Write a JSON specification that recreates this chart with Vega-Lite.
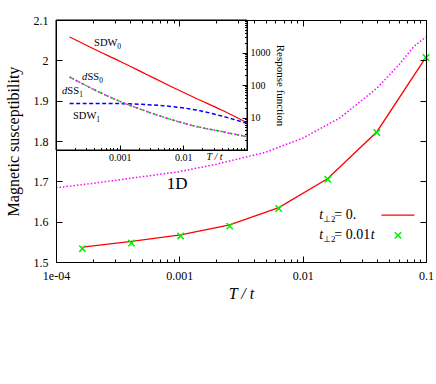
{
 "$schema": "https://vega.github.io/schema/vega-lite/v6.json",
 "width": 370,
 "height": 242,
 "autosize": {"type": "none"},
 "padding": {"left": 56, "top": 20, "right": 10, "bottom": 122},
 "background": "white",
 "config": {
  "font": "Liberation Serif",
  "view": {"stroke": null},
  "axis": {"domainColor": "black", "tickColor": "black", "labelColor": "black", "titleColor": "black", "domainWidth": 1, "tickWidth": 1, "grid": false, "labelFont": "Liberation Serif", "titleFont": "Liberation Serif", "titleFontWeight": "normal"},
  "text": {"font": "Liberation Serif", "color": "black", "fill": "black"}
 },
 "datasets": {
  "red": [{"T":0.00016384,"v":1.537},{"T":0.0004096,"v":1.551},{"T":0.001024,"v":1.567},{"T":0.00256,"v":1.592},{"T":0.0064,"v":1.635},{"T":0.016,"v":1.707},{"T":0.04,"v":1.823},{"T":0.1,"v":2.008}],
  "green": [{"T":0.00016384,"v":1.533},{"T":0.0004096,"v":1.547},{"T":0.001024,"v":1.5645},{"T":0.00256,"v":1.589},{"T":0.0064,"v":1.6325},{"T":0.016,"v":1.705},{"T":0.04,"v":1.821},{"T":0.1,"v":2.007}],
  "magenta": [{"T":0.0001,"v":1.684},{"T":0.0002,"v":1.695},{"T":0.0005,"v":1.7115},{"T":0.001,"v":1.724},{"T":0.002,"v":1.7425},{"T":0.005,"v":1.772},{"T":0.01,"v":1.807},{"T":0.02,"v":1.857},{"T":0.04,"v":1.931},{"T":0.06,"v":1.988},{"T":0.08,"v":2.035},{"T":0.1,"v":2.058}],
  "inset": [
   {"T":0.00016384,"SDW0":3000,"SDW1":27,"dSS0":176,"dSS1":176},
   {"T":0.0004096,"SDW0":1240,"SDW1":27,"dSS0":70,"dSS1":70},
   {"T":0.001024,"SDW0":530,"SDW1":26.7,"dSS0":31,"dSS1":31},
   {"T":0.00256,"SDW0":218,"SDW1":25,"dSS0":15.8,"dSS1":15.8},
   {"T":0.0064,"SDW0":90,"SDW1":21.8,"dSS0":8.7,"dSS1":8.7},
   {"T":0.016,"SDW0":38.5,"SDW1":17,"dSS0":5.3,"dSS1":5.3},
   {"T":0.04,"SDW0":17,"SDW1":11.1,"dSS0":3.7,"dSS1":3.7},
   {"T":0.1,"SDW0":6.9,"SDW1":6.6,"dSS0":2.56,"dSS1":2.56}
  ]
 },
 "layer": [
  {"data": {"name": "magenta"}, "mark": {"type": "line", "stroke": "#ff00ff", "strokeWidth": 1.5, "strokeDash": [1.5, 2]},
   "encoding": {
    "x": {"field": "T", "type": "quantitative", "scale": {"type": "log", "domain": [0.0001, 0.1], "nice": false},
     "axis": {"orient": "bottom", "title": "T / t", "titleFontStyle": "italic", "titleFontSize": 16, "titlePadding": 4,
      "values": [0.0001, 0.001, 0.01, 0.1],
      "labelExpr": "datum.value==0.0001?'1e-04':datum.value==0.001?'0.001':datum.value==0.01?'0.01':'0.1'",
      "labelFontSize": 12, "labelPadding": 14, "labelFlush": false, "labelOverlap": false, "tickSize": -6, "zindex": 1}},
    "y": {"field": "v", "type": "quantitative", "scale": {"domain": [1.5, 2.1], "zero": false, "nice": false},
     "axis": {"orient": "left", "title": "Magnetic susceptibility", "titleFontSize": 16, "titlePadding": 12,
      "values": [1.5,1.6,1.7,1.8,1.9,2,2.1], "format": ".1~f", "labelFontSize": 12, "labelPadding": 14, "tickSize": -6,
      "labelOverlap": false, "labelFlush": false, "zindex": 1}}
   }},
  {"data": {"name": "red"}, "mark": {"type": "line", "stroke": "#ff0000", "strokeWidth": 1.3},
   "encoding": {
    "x": {"field": "T", "type": "quantitative", "scale": {"type": "log", "domain": [0.0001, 0.1], "nice": false},
     "axis": {"orient": "top", "labels": false, "title": null,
      "values": [0.0001,0.0002,0.0003,0.0004,0.0005,0.0006,0.0007,0.0008,0.0009,0.001,0.002,0.003,0.004,0.005,0.006,0.007,0.008,0.009,0.01,0.02,0.03,0.04,0.05,0.06,0.07,0.08,0.09,0.1],
      "tickSize": {"condition": {"test": "datum.value==0.0001||datum.value==0.001||datum.value==0.01||datum.value==0.1", "value": -6}, "value": -3},
      "zindex": 1}},
    "y": {"field": "v", "type": "quantitative", "scale": {"domain": [1.5, 2.1], "zero": false, "nice": false},
     "axis": {"orient": "right", "labels": false, "title": null, "values": [1.5,1.6,1.7,1.8,1.9,2,2.1], "tickSize": -6, "zindex": 1}}
   }},
  {"data": {"name": "green"}, "mark": {"type": "point", "shape": "M-1,-1L1,1M-1,1L1,-1", "filled": false, "stroke": "#00ee00", "strokeWidth": 1.5, "size": 40, "opacity": 1},
   "encoding": {
    "x": {"field": "T", "type": "quantitative", "scale": {"type": "log", "domain": [0.0001, 0.1], "nice": false},
     "axis": {"orient": "bottom", "labels": false, "title": null, "domain": false,
      "values": [0.0002,0.0003,0.0004,0.0005,0.0006,0.0007,0.0008,0.0009,0.002,0.003,0.004,0.005,0.006,0.007,0.008,0.009,0.02,0.03,0.04,0.05,0.06,0.07,0.08,0.09],
      "tickSize": -3, "zindex": 1}},
    "y": {"field": "v", "type": "quantitative", "scale": {"domain": [1.5, 2.1], "zero": false, "nice": false}, "axis": null}
   }},
  {"data": {"values": [{}]}, "mark": {"type": "text", "text": "1D", "fontSize": 17, "align": "center", "baseline": "middle", "fill": "black"},
   "encoding": {"x": {"datum": 0.00096, "type": "quantitative", "scale": {"type": "log", "domain": [0.0001, 0.1], "nice": false}, "axis": null},
    "y": {"datum": 1.6946, "type": "quantitative", "scale": {"domain": [1.5, 2.1], "zero": false, "nice": false}, "axis": null}}},
  {"data": {"values": [{}]}, "mark": {"type": "text", "text": "t", "fontSize": 14, "fontStyle": "italic", "align": "left", "baseline": "middle", "fill": "black"},
   "encoding": {"x": {"datum": 0.01365, "type": "quantitative", "scale": {"type": "log", "domain": [0.0001, 0.1], "nice": false}, "axis": null},
    "y": {"datum": 1.616, "type": "quantitative", "scale": {"domain": [1.5, 2.1], "zero": false, "nice": false}, "axis": null}}},
  {"data": {"values": [{}]}, "mark": {"type": "text", "text": "⊥2", "fontSize": 9, "align": "left", "baseline": "middle", "dx": 3.6, "dy": 4, "fill": "black"},
   "encoding": {"x": {"datum": 0.01365, "type": "quantitative", "scale": {"type": "log", "domain": [0.0001, 0.1], "nice": false}, "axis": null},
    "y": {"datum": 1.616, "type": "quantitative", "scale": {"domain": [1.5, 2.1], "zero": false, "nice": false}, "axis": null}}},
  {"data": {"values": [{}]}, "mark": {"type": "text", "text": "= 0.", "fontSize": 14, "align": "left", "baseline": "middle", "dx": 15, "fill": "black"},
   "encoding": {"x": {"datum": 0.01365, "type": "quantitative", "scale": {"type": "log", "domain": [0.0001, 0.1], "nice": false}, "axis": null},
    "y": {"datum": 1.616, "type": "quantitative", "scale": {"domain": [1.5, 2.1], "zero": false, "nice": false}, "axis": null}}},
  {"data": {"values": [{}]}, "mark": {"type": "text", "text": "t", "fontSize": 14, "fontStyle": "italic", "align": "left", "baseline": "middle", "fill": "black"},
   "encoding": {"x": {"datum": 0.01365, "type": "quantitative", "scale": {"type": "log", "domain": [0.0001, 0.1], "nice": false}, "axis": null},
    "y": {"datum": 1.566, "type": "quantitative", "scale": {"domain": [1.5, 2.1], "zero": false, "nice": false}, "axis": null}}},
  {"data": {"values": [{}]}, "mark": {"type": "text", "text": "⊥2", "fontSize": 9, "align": "left", "baseline": "middle", "dx": 3.6, "dy": 4, "fill": "black"},
   "encoding": {"x": {"datum": 0.01365, "type": "quantitative", "scale": {"type": "log", "domain": [0.0001, 0.1], "nice": false}, "axis": null},
    "y": {"datum": 1.566, "type": "quantitative", "scale": {"domain": [1.5, 2.1], "zero": false, "nice": false}, "axis": null}}},
  {"data": {"values": [{}]}, "mark": {"type": "text", "text": "= 0.01", "fontSize": 14, "align": "left", "baseline": "middle", "dx": 15, "fill": "black"},
   "encoding": {"x": {"datum": 0.01365, "type": "quantitative", "scale": {"type": "log", "domain": [0.0001, 0.1], "nice": false}, "axis": null},
    "y": {"datum": 1.566, "type": "quantitative", "scale": {"domain": [1.5, 2.1], "zero": false, "nice": false}, "axis": null}}},
  {"data": {"values": [{}]}, "mark": {"type": "text", "text": "t", "fontSize": 14, "fontStyle": "italic", "align": "left", "baseline": "middle", "dx": 51.5, "fill": "black"},
   "encoding": {"x": {"datum": 0.01365, "type": "quantitative", "scale": {"type": "log", "domain": [0.0001, 0.1], "nice": false}, "axis": null},
    "y": {"datum": 1.566, "type": "quantitative", "scale": {"domain": [1.5, 2.1], "zero": false, "nice": false}, "axis": null}}},
  {"data": {"values": [{}]}, "mark": {"type": "rule", "stroke": "#ff0000", "strokeWidth": 1.3},
   "encoding": {"x": {"datum": 0.0435, "type": "quantitative", "scale": {"type": "log", "domain": [0.0001, 0.1], "nice": false}, "axis": null},
    "x2": {"datum": 0.0805},
    "y": {"datum": 1.616, "type": "quantitative", "scale": {"domain": [1.5, 2.1], "zero": false, "nice": false}, "axis": null}}},
  {"data": {"values": [{}]}, "mark": {"type": "point", "shape": "M-1,-1L1,1M-1,1L1,-1", "filled": false, "stroke": "#00ee00", "strokeWidth": 1.5, "size": 40, "opacity": 1},
   "encoding": {"x": {"datum": 0.0593, "type": "quantitative", "scale": {"type": "log", "domain": [0.0001, 0.1], "nice": false}, "axis": null},
    "y": {"datum": 1.566, "type": "quantitative", "scale": {"domain": [1.5, 2.1], "zero": false, "nice": false}, "axis": null}}},
  {"data": {"values": [{}]}, "mark": {"type": "rect", "fill": "white", "stroke": "black", "strokeWidth": 1},
   "encoding": {
    "x": {"datum": 0.0001, "type": "quantitative", "scale": {"type": "log", "domain": [0.0001, 0.1], "range": [0, 191], "nice": false}, "axis": null},
    "x2": {"datum": 0.1},
    "y": {"datum": 1, "type": "quantitative", "scale": {"type": "log", "domain": [1, 10000], "range": [130, 0], "nice": false}, "axis": null},
    "y2": {"datum": 10000}}},
  {"data": {"name": "inset"}, "mark": {"type": "line", "stroke": "#ff0000", "strokeWidth": 1.3, "interpolate": "monotone"},
   "encoding": {
    "x": {"field": "T", "type": "quantitative", "scale": {"type": "log", "domain": [0.0001, 0.1], "range": [0, 191], "nice": false},
     "axis": {"orient": "bottom", "offset": -112, "title": "T / t", "titleFontStyle": "italic", "titleFontSize": 10,
      "titleX": 158, "titleY": 6, "titleBaseline": "middle", "titleAlign": "center",
      "values": [0.0001, 0.001, 0.01, 0.1],
      "labelExpr": "datum.value==0.001?'0.001':datum.value==0.01?'0.01':''",
      "labelFontSize": 10, "labelPadding": 7, "labelFlush": false, "labelOverlap": false, "tickSize": -5, "zindex": 1}},
    "y": {"field": "SDW0", "type": "quantitative", "scale": {"type": "log", "domain": [1, 10000], "range": [130, 0], "nice": false},
     "axis": {"orient": "right", "offset": -179, "title": "Response function", "titleFontSize": 11, "titlePadding": 4,
      "values": [1, 10, 100, 1000, 10000],
      "labelExpr": "datum.value==10?'10':datum.value==100?'100':datum.value==1000?'1000':''",
      "labelFontSize": 10, "labelPadding": 8, "labelFlush": false, "labelOverlap": false, "tickSize": -5, "zindex": 1}}
   }},
  {"data": {"name": "inset"}, "mark": {"type": "line", "stroke": "#0000ff", "strokeWidth": 1.5, "strokeDash": [4, 2.5], "interpolate": "monotone"},
   "encoding": {
    "x": {"field": "T", "type": "quantitative", "scale": {"type": "log", "domain": [0.0001, 0.1], "range": [0, 191], "nice": false},
     "axis": {"orient": "bottom", "offset": -112, "labels": false, "title": null, "domain": false,
      "values": [0.0002,0.0003,0.0004,0.0005,0.0006,0.0007,0.0008,0.0009,0.002,0.003,0.004,0.005,0.006,0.007,0.008,0.009,0.02,0.03,0.04,0.05,0.06,0.07,0.08,0.09],
      "tickSize": -2.5, "zindex": 1}},
    "y": {"field": "SDW1", "type": "quantitative", "scale": {"type": "log", "domain": [1, 10000], "range": [130, 0], "nice": false},
     "axis": {"orient": "right", "offset": -179, "labels": false, "title": null, "domain": false,
      "values": [2,3,4,5,6,7,8,9,20,30,40,50,60,70,80,90,200,300,400,500,600,700,800,900,2000,3000,4000,5000,6000,7000,8000,9000],
      "tickSize": -2.5, "zindex": 1}}
   }},
  {"data": {"name": "inset"}, "mark": {"type": "line", "stroke": "#00ee00", "strokeWidth": 1.5, "strokeDash": [4, 2.5], "interpolate": "monotone"},
   "encoding": {
    "x": {"field": "T", "type": "quantitative", "scale": {"type": "log", "domain": [0.0001, 0.1], "range": [0, 191], "nice": false}, "axis": null},
    "y": {"field": "dSS0", "type": "quantitative", "scale": {"type": "log", "domain": [1, 10000], "range": [130, 0], "nice": false}, "axis": null}}},
  {"data": {"name": "inset"}, "mark": {"type": "line", "stroke": "#ff00ff", "strokeWidth": 1.5, "strokeDash": [1.5, 2], "interpolate": "monotone"},
   "encoding": {
    "x": {"field": "T", "type": "quantitative", "scale": {"type": "log", "domain": [0.0001, 0.1], "range": [0, 191], "nice": false}, "axis": null},
    "y": {"field": "dSS1", "type": "quantitative", "scale": {"type": "log", "domain": [1, 10000], "range": [130, 0], "nice": false}, "axis": null}}},
  {"data": {"values": [{}]}, "mark": {"type": "text", "text": "SDW", "fontSize": 10.5, "align": "left", "baseline": "middle", "fill": "black"},
   "encoding": {"x": {"datum": 0.000396, "type": "quantitative", "scale": {"type": "log", "domain": [0.0001, 0.1], "range": [0, 191], "nice": false}, "axis": null},
    "y": {"datum": 1950, "type": "quantitative", "scale": {"type": "log", "domain": [1, 10000], "range": [130, 0], "nice": false}, "axis": null}}},
  {"data": {"values": [{}]}, "mark": {"type": "text", "text": "0", "fontSize": 7.5, "align": "left", "baseline": "middle", "dx": 23.3, "dy": 3.5, "fill": "black"},
   "encoding": {"x": {"datum": 0.000396, "type": "quantitative", "scale": {"type": "log", "domain": [0.0001, 0.1], "range": [0, 191], "nice": false}, "axis": null},
    "y": {"datum": 1950, "type": "quantitative", "scale": {"type": "log", "domain": [1, 10000], "range": [130, 0], "nice": false}, "axis": null}}},
  {"data": {"values": [{}]}, "mark": {"type": "text", "text": "d", "fontSize": 10.5, "fontStyle": "italic", "align": "left", "baseline": "middle", "fill": "black"},
   "encoding": {"x": {"datum": 0.000257, "type": "quantitative", "scale": {"type": "log", "domain": [0.0001, 0.1], "range": [0, 191], "nice": false}, "axis": null},
    "y": {"datum": 176, "type": "quantitative", "scale": {"type": "log", "domain": [1, 10000], "range": [130, 0], "nice": false}, "axis": null}}},
  {"data": {"values": [{}]}, "mark": {"type": "text", "text": "SS", "fontSize": 10.5, "align": "left", "baseline": "middle", "dx": 5.4, "fill": "black"},
   "encoding": {"x": {"datum": 0.000257, "type": "quantitative", "scale": {"type": "log", "domain": [0.0001, 0.1], "range": [0, 191], "nice": false}, "axis": null},
    "y": {"datum": 176, "type": "quantitative", "scale": {"type": "log", "domain": [1, 10000], "range": [130, 0], "nice": false}, "axis": null}}},
  {"data": {"values": [{}]}, "mark": {"type": "text", "text": "0", "fontSize": 7.5, "align": "left", "baseline": "middle", "dx": 17.2, "dy": 3.5, "fill": "black"},
   "encoding": {"x": {"datum": 0.000257, "type": "quantitative", "scale": {"type": "log", "domain": [0.0001, 0.1], "range": [0, 191], "nice": false}, "axis": null},
    "y": {"datum": 176, "type": "quantitative", "scale": {"type": "log", "domain": [1, 10000], "range": [130, 0], "nice": false}, "axis": null}}},
  {"data": {"values": [{}]}, "mark": {"type": "text", "text": "d", "fontSize": 10.5, "fontStyle": "italic", "align": "left", "baseline": "middle", "fill": "black"},
   "encoding": {"x": {"datum": 0.000124, "type": "quantitative", "scale": {"type": "log", "domain": [0.0001, 0.1], "range": [0, 191], "nice": false}, "axis": null},
    "y": {"datum": 65, "type": "quantitative", "scale": {"type": "log", "domain": [1, 10000], "range": [130, 0], "nice": false}, "axis": null}}},
  {"data": {"values": [{}]}, "mark": {"type": "text", "text": "SS", "fontSize": 10.5, "align": "left", "baseline": "middle", "dx": 5.4, "fill": "black"},
   "encoding": {"x": {"datum": 0.000124, "type": "quantitative", "scale": {"type": "log", "domain": [0.0001, 0.1], "range": [0, 191], "nice": false}, "axis": null},
    "y": {"datum": 65, "type": "quantitative", "scale": {"type": "log", "domain": [1, 10000], "range": [130, 0], "nice": false}, "axis": null}}},
  {"data": {"values": [{}]}, "mark": {"type": "text", "text": "1", "fontSize": 7.5, "align": "left", "baseline": "middle", "dx": 17.2, "dy": 3.5, "fill": "black"},
   "encoding": {"x": {"datum": 0.000124, "type": "quantitative", "scale": {"type": "log", "domain": [0.0001, 0.1], "range": [0, 191], "nice": false}, "axis": null},
    "y": {"datum": 65, "type": "quantitative", "scale": {"type": "log", "domain": [1, 10000], "range": [130, 0], "nice": false}, "axis": null}}},
  {"data": {"values": [{}]}, "mark": {"type": "text", "text": "SDW", "fontSize": 10.5, "align": "left", "baseline": "middle", "fill": "black"},
   "encoding": {"x": {"datum": 0.000185, "type": "quantitative", "scale": {"type": "log", "domain": [0.0001, 0.1], "range": [0, 191], "nice": false}, "axis": null},
    "y": {"datum": 11.1, "type": "quantitative", "scale": {"type": "log", "domain": [1, 10000], "range": [130, 0], "nice": false}, "axis": null}}},
  {"data": {"values": [{}]}, "mark": {"type": "text", "text": "1", "fontSize": 7.5, "align": "left", "baseline": "middle", "dx": 23.3, "dy": 3.5, "fill": "black"},
   "encoding": {"x": {"datum": 0.000185, "type": "quantitative", "scale": {"type": "log", "domain": [0.0001, 0.1], "range": [0, 191], "nice": false}, "axis": null},
    "y": {"datum": 11.1, "type": "quantitative", "scale": {"type": "log", "domain": [1, 10000], "range": [130, 0], "nice": false}, "axis": null}}}
 ],
 "resolve": {"scale": {"x": "independent", "y": "independent"}, "axis": {"x": "independent", "y": "independent"}}
}
